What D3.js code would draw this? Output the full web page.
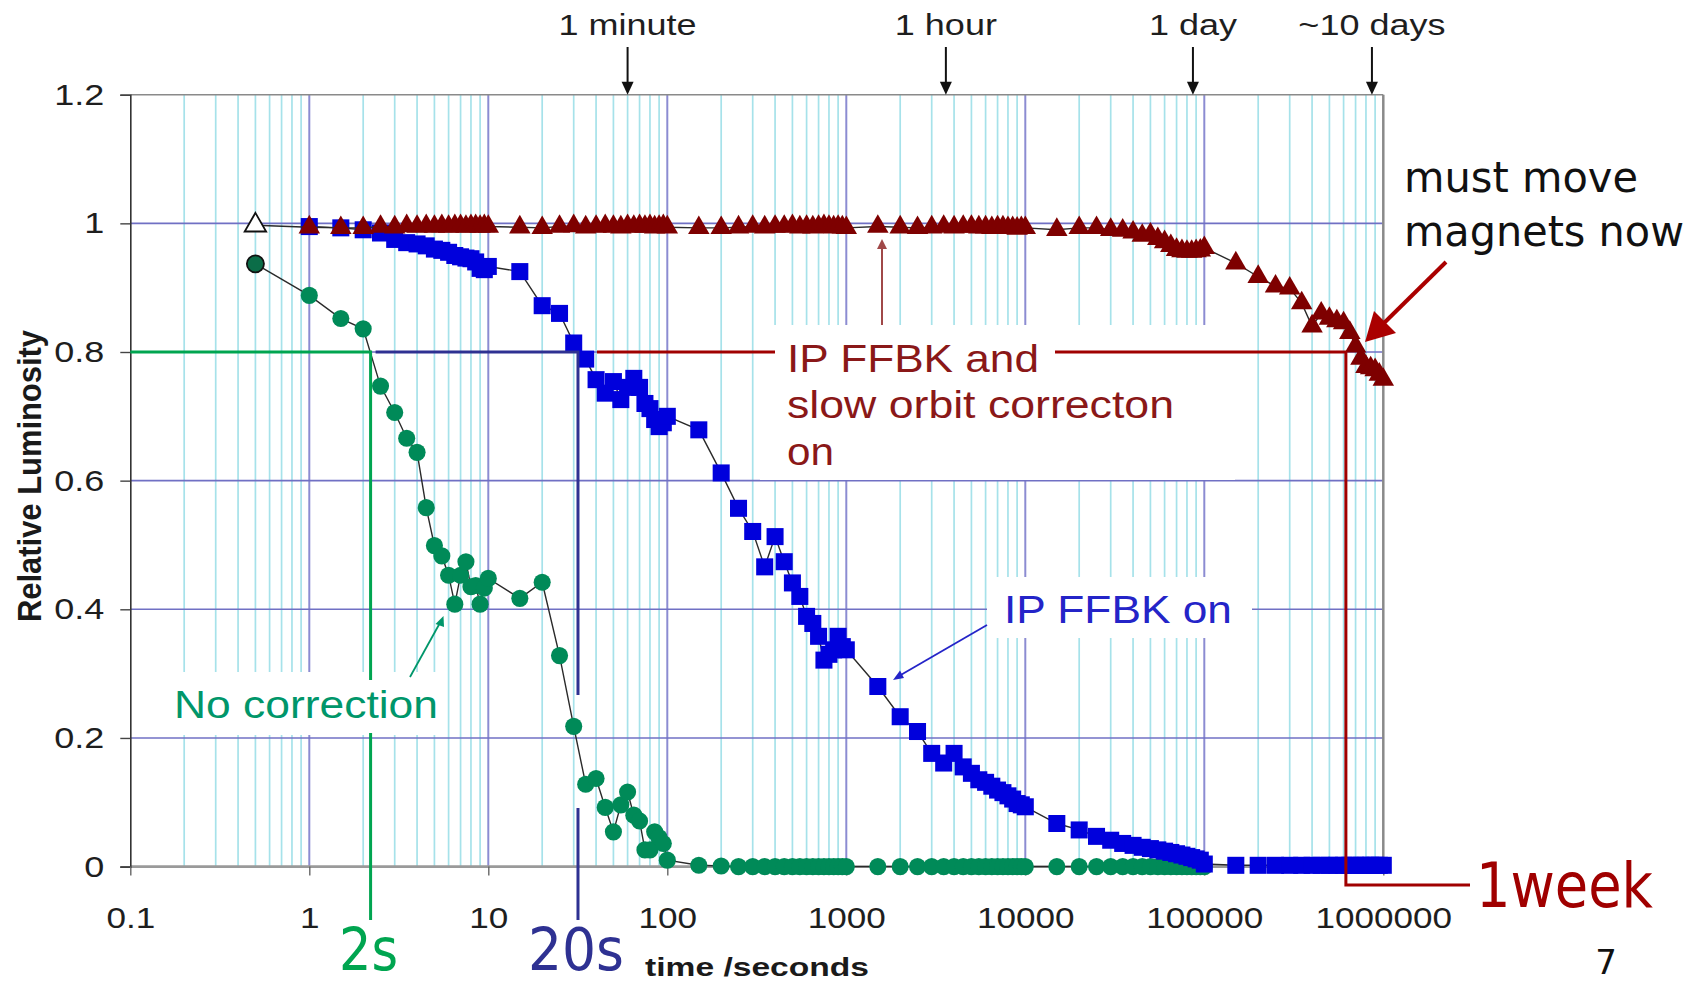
<!DOCTYPE html>
<html><head><meta charset="utf-8">
<script src="https://cdn.jsdelivr.net/npm/d3@7"></script>
<style>
html,body{margin:0;padding:0;background:#fff;}
svg{display:block;}
</style></head>
<body><svg id="c" width="1688" height="984"></svg>
<script>
// ---------------- data ----------------
const xTicks = [0.1, 1, 10, 100, 1000, 10000, 100000, 1000000];
const xTickLabels = ["0.1", "1", "10", "100", "1000", "10000", "100000", "1000000"];
const yTicks = [0, 0.2, 0.4, 0.6, 0.8, 1.0, 1.2];
const yTickLabels = ["0", "0.2", "0.4", "0.6", "0.8", "1", "1.2"];

const timeMarks = ["1 minute", "1 hour", "1 day", "~10 days"];
const timeMarkSeconds = [60, 3600, 86400, 864000];

// "IP FFBK and slow orbit correcton on" (triangles)
const tRed = [0.5,
  1, 1.5, 2, 2.5, 3, 3.5, 4, 4.5, 5, 5.5, 6, 6.5, 7, 7.5, 8, 8.5, 9, 9.5, 10,
  15, 20, 25, 30, 35, 40, 45, 50, 55, 60, 65, 70, 75, 80, 85, 90, 95, 100,
  150, 200, 250, 300, 350, 400, 450, 500, 550, 600, 650, 700, 750, 800, 850, 900, 950, 1000,
  1500, 2000, 2500, 3000, 3500, 4000, 4500, 5000, 5500, 6000, 6500, 7000, 7500, 8000, 8500, 9000, 9500, 10000,
  15000, 20000, 25000, 30000, 35000, 40000, 45000, 50000, 55000, 60000, 65000, 70000, 75000, 80000, 85000, 90000, 95000, 100000,
  150000, 200000, 250000, 300000, 350000, 400000, 450000, 500000, 550000, 600000, 650000, 700000, 750000, 800000, 850000, 900000, 950000, 1000000];
const vRed = [0.997,
  0.994, 0.993, 0.993, 0.995, 0.994, 0.996, 0.995, 0.996, 0.995, 0.996, 0.995, 0.996, 0.996, 0.995, 0.996, 0.996, 0.995, 0.996, 0.995,
  0.994, 0.993, 0.995, 0.996, 0.994, 0.995, 0.996, 0.995, 0.994, 0.996, 0.995, 0.996, 0.995, 0.996, 0.994, 0.995, 0.996, 0.994,
  0.993, 0.993, 0.994, 0.995, 0.994, 0.995, 0.995, 0.996, 0.994, 0.995, 0.994, 0.995, 0.996, 0.995, 0.994, 0.995, 0.994, 0.993,
  0.995, 0.994, 0.993, 0.994, 0.995, 0.994, 0.995, 0.995, 0.994, 0.994, 0.993, 0.994, 0.994, 0.993, 0.993, 0.992, 0.993, 0.993,
  0.990, 0.993, 0.993, 0.990, 0.989, 0.986, 0.981, 0.983, 0.976, 0.971, 0.965, 0.959, 0.957, 0.956, 0.956, 0.957, 0.958, 0.962,
  0.938, 0.917, 0.902, 0.899, 0.876, 0.840, 0.860, 0.852, 0.848, 0.845, 0.830, 0.809, 0.790, 0.777, 0.775, 0.772, 0.765, 0.757];

// "IP FFBK on" (squares)
const tBlue = [
  1, 1.5, 2, 2.5, 3, 3.5, 4, 4.5, 5, 5.5, 6, 6.5, 7, 7.5, 8, 8.5, 9, 9.5, 10,
  15, 20, 25, 30, 35, 40, 45, 50, 55, 60, 65, 70, 75, 80, 85, 90, 95, 100,
  150, 200, 250, 300, 350, 400, 450, 500, 550, 600, 650, 700, 750, 800, 850, 900, 950, 1000,
  1500, 2000, 2500, 3000, 3500, 4000, 4500, 5000, 5500, 6000, 6500, 7000, 7500, 8000, 8500, 9000, 9500, 10000,
  15000, 20000, 25000, 30000, 35000, 40000, 45000, 50000, 55000, 60000, 65000, 70000, 75000, 80000, 85000, 90000, 95000, 100000,
  150000, 200000, 250000, 300000, 350000, 400000, 450000, 500000, 550000, 600000, 650000, 700000, 750000, 800000, 850000, 900000, 950000, 1000000];
const vBlue = [
  0.995, 0.993, 0.990, 0.985, 0.975, 0.970, 0.968, 0.965, 0.960, 0.958, 0.955, 0.950, 0.948, 0.946, 0.945, 0.940, 0.930, 0.928, 0.933,
  0.925, 0.872, 0.860, 0.814, 0.789, 0.757, 0.736, 0.754, 0.726, 0.745, 0.759, 0.745, 0.720, 0.712, 0.695, 0.684, 0.690, 0.700,
  0.679, 0.612, 0.557, 0.521, 0.466, 0.513, 0.474, 0.441, 0.420, 0.389, 0.378, 0.358, 0.321, 0.330, 0.337, 0.358, 0.342, 0.337,
  0.280, 0.233, 0.210, 0.176, 0.161, 0.176, 0.155, 0.145, 0.135, 0.131, 0.125, 0.119, 0.115, 0.110, 0.105, 0.098, 0.096, 0.093,
  0.067, 0.057, 0.047, 0.041, 0.036, 0.033, 0.030, 0.028, 0.026, 0.024, 0.022, 0.020, 0.018, 0.016, 0.014, 0.012, 0.010, 0.004,
  0.002, 0.002, 0.002, 0.002, 0.002, 0.002, 0.002, 0.002, 0.002, 0.002, 0.002, 0.002, 0.002, 0.002, 0.002, 0.002, 0.002, 0.002];

// "No correction" (circles)
const tGreen = [0.5,
  1, 1.5, 2, 2.5, 3, 3.5, 4, 4.5, 5, 5.5, 6, 6.5, 7, 7.5, 8, 8.5, 9, 9.5, 10,
  15, 20, 25, 30, 35, 40, 45, 50, 55, 60, 65, 70, 75, 80, 85, 90, 95, 100,
  150, 200, 250, 300, 350, 400, 450, 500, 550, 600, 650, 700, 750, 800, 850, 900, 950, 1000,
  1500, 2000, 2500, 3000, 3500, 4000, 4500, 5000, 5500, 6000, 6500, 7000, 7500, 8000, 8500, 9000, 9500, 10000,
  15000, 20000, 25000, 30000, 35000, 40000, 45000, 50000, 55000, 60000, 65000, 70000, 75000, 80000, 85000, 90000, 95000, 100000];
const vGreen = [0.937,
  0.888, 0.852, 0.836, 0.747, 0.706, 0.666, 0.644, 0.558, 0.499, 0.483, 0.453, 0.408, 0.453, 0.474, 0.435, 0.437, 0.408, 0.433, 0.448,
  0.417, 0.442, 0.328, 0.218, 0.128, 0.137, 0.092, 0.054, 0.096, 0.116, 0.080, 0.071, 0.026, 0.026, 0.054, 0.045, 0.036, 0.010,
  0.002, 0.001, 0, 0, 0, 0, 0, 0, 0, 0, 0, 0, 0, 0, 0, 0, 0, 0,
  0, 0, 0, 0, 0, 0, 0, 0, 0, 0, 0, 0, 0, 0, 0, 0, 0, 0,
  0, 0, 0, 0, 0, 0, 0, 0, 0, 0, 0, 0, 0, 0, 0, 0, 0, 0];

// slide annotation crossing times at relative luminosity 0.8
const crossT = [2.2, 31.7, 618000];
const crossLevel = 0.8;

// ---------------- chart ----------------
const svg = d3.select('#c');
const x = d3.scaleLog().domain([0.1, 1e6]).range([130.3, 1383.3]);
const y = d3.scaleLinear().domain([0, 1.2]).range([866.6, 94.7]);
const X0 = x.range()[0], X1 = x.range()[1], Y0 = y.range()[0], Y1 = y.range()[1];

function stretch(sel, k){
  sel.each(function(){
    const l = this.getComputedTextLength();
    d3.select(this).attr('textLength', l*k).attr('lengthAdjust','spacingAndGlyphs');
  });
}
function fit(sel, w){ sel.attr('textLength', w).attr('lengthAdjust','spacingAndGlyphs'); }

// grid
const g = svg.append('g');
const allTicks = x.ticks();
const isDecade = v => Math.abs(Math.log10(v) - Math.round(Math.log10(v))) < 1e-9;
g.selectAll('line.minor').data(allTicks.filter(v => !isDecade(v)))
  .join('line').attr('x1', d=>x(d)).attr('x2', d=>x(d)).attr('y1', Y1).attr('y2', Y0)
  .attr('stroke', '#a6e2ea').attr('stroke-width', 1.7);
g.selectAll('line.major').data(allTicks.filter(v => isDecade(v) && v > 0.1 && v < 1e6))
  .join('line').attr('x1', d=>x(d)).attr('x2', d=>x(d)).attr('y1', Y1).attr('y2', Y0)
  .attr('stroke', '#8c8cd2').attr('stroke-width', 2);
g.selectAll('line.h').data(yTicks.filter(v => v > 0 && v < 1.2))
  .join('line').attr('x1', X0).attr('x2', X1).attr('y1', d=>y(d)).attr('y2', d=>y(d))
  .attr('stroke', '#7070c4').attr('stroke-width', 1.6);

// white label boxes of the original chart (cover the grid)
const boxes = [[760, 325, 475, 155], [987, 577, 265, 61], [176, 672, 270, 63]];
svg.append('g').selectAll('rect').data(boxes).join('rect')
  .attr('x', d=>d[0]).attr('y', d=>d[1]).attr('width', d=>d[2]).attr('height', d=>d[3]).attr('fill', '#fff');

// frame
svg.append('line').attr('x1', X0).attr('x2', X1).attr('y1', Y1).attr('y2', Y1).attr('stroke', '#8a8a8a').attr('stroke-width', 1.6);
svg.append('line').attr('x1', X1).attr('x2', X1).attr('y1', Y1).attr('y2', Y0).attr('stroke', '#8a8a8a').attr('stroke-width', 2.5);
svg.append('line').attr('x1', X0).attr('x2', X1+4).attr('y1', Y0).attr('y2', Y0).attr('stroke', '#9a9a9a').attr('stroke-width', 2.6);

// axes
const yAxis = svg.append('g').attr('transform', `translate(${X0},0)`)
  .call(d3.axisLeft(y).tickValues(yTicks).tickFormat((d,i)=>yTickLabels[i]).tickSize(10).tickPadding(16));
yAxis.select('.domain').attr('stroke', '#333').attr('stroke-width', 1.6);
yAxis.selectAll('.tick line').attr('stroke', '#444').attr('stroke-width', 1.4);
yAxis.selectAll('text').attr('font-family', 'Liberation Sans, Arial, sans-serif').attr('font-size', 30).attr('fill', '#1e1e1e');
stretch(yAxis.selectAll('text'), 1.2);

const xAxis = svg.append('g').attr('transform', `translate(0,${Y0})`)
  .call(d3.axisBottom(x).tickValues(xTicks).tickFormat((d,i)=>xTickLabels[i]).tickSize(9).tickPadding(31));
xAxis.select('.domain').remove();
xAxis.selectAll('.tick line').attr('stroke', '#666').attr('stroke-width', 1.4);
xAxis.selectAll('text').attr('font-family', 'Liberation Sans, Arial, sans-serif').attr('font-size', 30).attr('fill', '#1e1e1e');
stretch(xAxis.selectAll('text'), 1.17);

// axis titles
svg.append('text').attr('transform', 'translate(41,476) scale(1.2,1) rotate(-90)')
  .attr('text-anchor', 'middle').attr('font-family', 'Liberation Sans, Arial, sans-serif')
  .attr('font-weight', 'bold').attr('font-size', 27).attr('fill', '#1a1a1a')
  .text('Relative Luminosity').call(fit, 292);
svg.append('text').attr('x', 757).attr('y', 976).attr('text-anchor', 'middle')
  .attr('font-family', 'Liberation Sans, Arial, sans-serif').attr('font-weight', 'bold').attr('font-size', 26).attr('fill', '#1a1a1a')
  .text('time /seconds').call(fit, 224);

// time markers above the plot
const tm = svg.append('g');
timeMarks.forEach((lab, i) => {
  const xx = x(timeMarkSeconds[i]);
  tm.append('text').attr('x', xx).attr('y', 35).attr('text-anchor', 'middle')
    .attr('font-family', 'Liberation Sans, Arial, sans-serif').attr('font-size', 30).attr('fill', '#1e1e1e')
    .text(lab).call(stretch, 1.2);
  tm.append('line').attr('x1', xx).attr('x2', xx).attr('y1', 47).attr('y2', Y1 - 10).attr('stroke', '#111').attr('stroke-width', 2);
  tm.append('path').attr('d', `M${xx-6},${Y1-13} L${xx+6},${Y1-13} L${xx},${Y1} Z`).attr('fill', '#111');
});

// series
const mk = (ts, vs) => ts.map((t, i) => ({t, v: vs[i], i}));
const green = mk(tGreen, vGreen), blue = mk(tBlue, vBlue), red = mk(tRed, vRed);
const line = d3.line().x(d=>x(d.t)).y(d=>y(d.v));

function drawSeries(data, type, fill){
  const s = svg.append('g');
  s.append('path').attr('d', line(data)).attr('fill', 'none').attr('stroke', '#2a2a2a').attr('stroke-width', 1.4);
  const sym = d3.symbol().type(type === 'circle' ? d3.symbolCircle : type === 'square' ? d3.symbolSquare : d3.symbolTriangle)
    .size(type === 'circle' ? 230 : type === 'square' ? 290 : 200);
  s.selectAll('path.m').data(data).join('path').attr('class', 'm')
    .attr('transform', d => `translate(${x(d.t)},${y(d.v)})`)
    .attr('d', sym)
    .attr('fill', d => (d.i === 0 && type === 'triangle') ? '#fff' : (d.i === 0 && type === 'circle') ? '#0b6d48' : fill)
    .attr('stroke', d => d.i === 0 && type !== 'square' ? '#111' : 'none')
    .attr('stroke-width', 1.8);
}
drawSeries(green, 'circle', '#008a58');
drawSeries(blue, 'square', '#0000dc');
drawSeries(red, 'triangle', '#7e0000');

// in-chart labels
const AR = 'Liberation Sans, Arial, sans-serif';
svg.append('text').attr('x', 174).attr('y', 718).attr('font-family', AR).attr('font-size', 39).attr('fill', '#00966a')
  .text('No correction').call(fit, 264);
svg.append('line').attr('x1', 410).attr('y1', 677).attr('x2', 441).attr('y2', 621).attr('stroke', '#00966a').attr('stroke-width', 1.8);
svg.append('path').attr('d', 'M443.5,616 L435.5,624 L444,627 Z').attr('fill', '#00966a');

svg.append('text').attr('x', 1004).attr('y', 623).attr('font-family', AR).attr('font-size', 39).attr('fill', '#2424c8')
  .text('IP FFBK on').call(fit, 228);
svg.append('line').attr('x1', 987).attr('y1', 625).attr('x2', 899).attr('y2', 676).attr('stroke', '#2424c8').attr('stroke-width', 1.8);
svg.append('path').attr('d', 'M893,680 L900,670.5 L904,678 Z').attr('fill', '#2424c8');

const rl = svg.append('g').attr('font-family', AR).attr('font-size', 38).attr('fill', '#8a1818');
rl.append('text').attr('x', 787).attr('y', 372).text('IP FFBK and').call(fit, 252);
rl.append('text').attr('x', 787).attr('y', 418).text('slow orbit correcton').call(fit, 387);
rl.append('text').attr('x', 787).attr('y', 465).text('on').call(fit, 47);
svg.append('line').attr('x1', 882).attr('x2', 882).attr('y1', 325).attr('y2', 246).attr('stroke', '#a04848').attr('stroke-width', 2);
svg.append('path').attr('d', 'M882,239 L877,249 L887,249 Z').attr('fill', '#a04848');

// ---------------- slide annotations ----------------
const SL = 'DejaVu Sans, Verdana, sans-serif';
const yc = y(crossLevel);
const xg = x(crossT[0]), xb = x(crossT[1]), xr = x(crossT[2]);
svg.append('path').attr('d', `M${X0},${yc} H${xg} V680 M${xg},733 V920`)
  .attr('fill', 'none').attr('stroke', '#00a550').attr('stroke-width', 3);
svg.append('path').attr('d', `M${xg+5},${yc} H${xb} V695 M${xb},808 V920`)
  .attr('fill', 'none').attr('stroke', '#2e3192').attr('stroke-width', 3);
svg.append('path').attr('d', `M597,${yc} H775 M1055,${yc} H${xr} V885 H1470`)
  .attr('fill', 'none').attr('stroke', '#a00000').attr('stroke-width', 3);

svg.append('text').attr('x', xg-2).attr('y', 970).attr('text-anchor', 'middle').attr('font-family', SL).attr('font-size', 58)
  .attr('fill', '#00a550').text('2s').call(fit, 59);
svg.append('text').attr('x', xb-2).attr('y', 970).attr('text-anchor', 'middle').attr('font-family', SL).attr('font-size', 58)
  .attr('fill', '#2e3192').text('20s').call(fit, 96);
svg.append('text').attr('x', 1476).attr('y', 907).attr('font-family', SL).attr('font-size', 62)
  .attr('fill', '#a00000').text('1week').call(fit, 177);

svg.append('text').attr('x', 1404).attr('y', 192).attr('font-family', SL).attr('font-size', 42).attr('fill', '#111')
  .text('must move').call(fit, 234);
svg.append('text').attr('x', 1404).attr('y', 246).attr('font-family', SL).attr('font-size', 42).attr('fill', '#111')
  .text('magnets now').call(fit, 280);
svg.append('line').attr('x1', 1446).attr('y1', 262).attr('x2', 1382).attr('y2', 325).attr('stroke', '#aa0000').attr('stroke-width', 4);
svg.append('path').attr('d', 'M1365,342 L1374,311 L1396,333 Z').attr('fill', '#aa0000');

svg.append('text').attr('x', 1606).attr('y', 974).attr('text-anchor', 'middle').attr('font-family', SL).attr('font-size', 34)
  .attr('fill', '#111').text('7');
</script>
</body></html>
